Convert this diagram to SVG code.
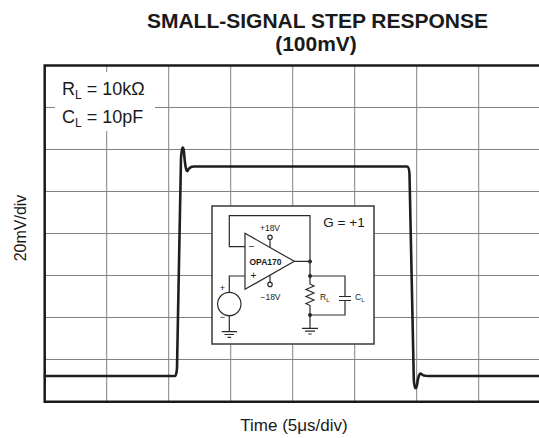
<svg xmlns="http://www.w3.org/2000/svg" width="539" height="438" viewBox="0 0 539 438">
<style>
text{font-family:"Liberation Sans",Arial,sans-serif;fill:#1a1a1a}
.grid{stroke:#808080;stroke-width:1;fill:none}
.frame{stroke:#1a1a1a;stroke-width:2.5;fill:none}
.wave{stroke:#1e1e1e;stroke-width:2.6;fill:none;stroke-linejoin:round;stroke-linecap:round}
.w{stroke:#2a2a2a;stroke-width:1.2;fill:none}
.dot{fill:#2a2a2a}
.sm{font-size:8.5px}
</style>
<rect width="539" height="438" fill="#fff"/>
<text x="317.5" y="28" font-size="21" font-weight="bold" text-anchor="middle">SMALL-SIGNAL STEP RESPONSE</text>
<text x="316" y="51" font-size="21" font-weight="bold" text-anchor="middle">(100mV)</text>
<g id="grid">
<path class="grid" d="M106.7 66V402M168.7 66V402M230.7 66V402M292.7 66V402M354.7 66V402M416.7 66V402M478.7 66V402M45 107.5H540M45 149.5H540M45 191.5H540M45 233.5H540M45 275.5H540M45 317.5H540M45 359.5H540"/>
</g>
<path class="frame" d="M541 65.5H44.7V401.7H541"/>
<g id="legend">
<rect x="55" y="72" width="100" height="59" fill="#fff"/>
<text x="62" y="95" font-size="18">R<tspan font-size="12" dy="4">L</tspan><tspan dy="-4"> = 10kΩ</tspan></text>
<text x="62" y="123" font-size="18">C<tspan font-size="12" dy="4">L</tspan><tspan dy="-4"> = 10pF</tspan></text>
</g>
<g id="waveform">
<path class="wave" d="M45 376L175 376Q176.5 376 177 368L181 158Q182.5 141 184 152Q185.5 172 187.5 171Q189.5 166.5 194 166.5L407 166.5Q409 166.5 409.5 174L413.8 380Q415 393 417 385Q419 371 421.5 374Q423 376 428 376L540 376"/>
</g>
<g id="inset">
<rect x="212" y="206" width="162" height="138" fill="#fff" stroke="#3a3a3a" stroke-width="1.5"/>
<text x="344" y="227" font-size="13.5" text-anchor="middle">G = +1</text>
<g id="opamp">
<path class="w" d="M245 233.3L245 289.3L294.3 261.3Z" fill="#fff"/>
<text x="265.5" y="264.5" font-size="8.5" font-weight="bold" text-anchor="middle">OPA170</text>
<text x="251.7" y="250" font-size="10" text-anchor="middle">−</text>
<text x="253.3" y="279" font-size="10" text-anchor="middle">+</text>
<path class="w" d="M270 239.5V247.5M270 275.1V282.2"/>
<circle class="w" cx="270" cy="237.3" r="2.2" fill="#fff"/>
<circle class="w" cx="270" cy="284.4" r="2.2" fill="#fff"/>
<text class="sm" x="270" y="230.5" text-anchor="middle">+18V</text>
<text class="sm" x="270.5" y="299.5" text-anchor="middle">−18V</text>
</g>
<g id="source">
<circle class="w" cx="229.3" cy="304" r="11.7"/>
<text x="222.5" y="291" font-size="9" text-anchor="middle">+</text>
<text x="222.5" y="320" font-size="9" text-anchor="middle">−</text>
</g>
<g id="load">
<path class="w" d="M310 276V284L314 286L306 289.5L314 293L306 296.5L314 300L306 303.5L310 305.5V328.3"/>
<path class="w" d="M339 296.5H351M339 300.5H351"/>
<text class="sm" x="320" y="300">R<tspan font-size="6" dy="2">L</tspan></text>
<text class="sm" x="355" y="300">C<tspan font-size="6" dy="2">L</tspan></text>
</g>
<g id="wires">
<path class="w" d="M245 246.7H229.3V215.7H310V276M294.3 261.3H310M245 276H229.3V292.3M229.3 315.7V331.7M310 276H345V296.5M345 300.5V315H310"/>
<path class="w" d="M221.7 331.7H237M224.5 334.5H234M227.6 337.3H231M302 328.3H318M305 331.1H315M308.3 334H311.7"/>
<circle class="dot" cx="310" cy="261.5" r="2"/>
<circle class="dot" cx="310" cy="276" r="2"/>
<circle class="dot" cx="310" cy="315" r="2"/>
</g>
</g>
<text transform="translate(26 228) rotate(-90)" font-size="16" text-anchor="middle">20mV/div</text>
<text x="294" y="431" font-size="17" text-anchor="middle">Time (5μs/div)</text>
</svg>
